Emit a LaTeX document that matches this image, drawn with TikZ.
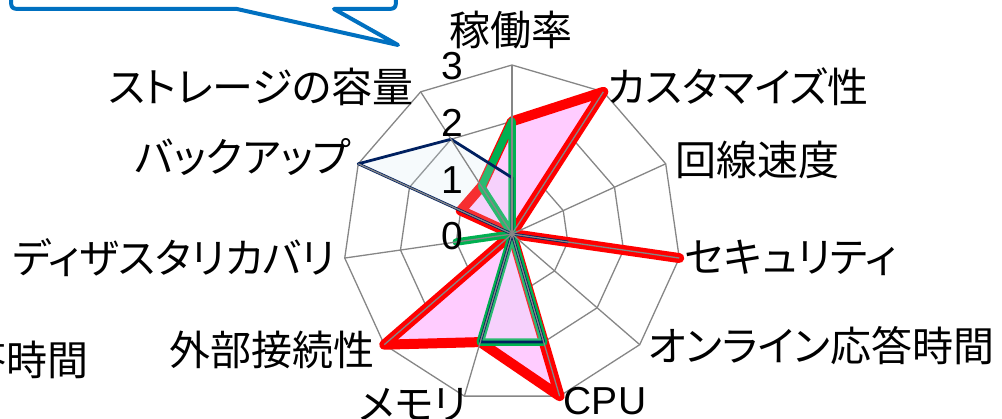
\documentclass[tikz,border=0pt]{standalone}
\usepackage{fontspec}
\newfontfamily\jp[RawFeature={+palt}]{Noto Sans CJK JP}
\newfontfamily\ar{Liberation Sans}
\definecolor{gridgray}{RGB}{134,134,134}
\definecolor{rred}{RGB}{255,0,0}
\definecolor{pinkf}{RGB}{255,204,255}
\definecolor{ggreen}{RGB}{0,176,80}
\definecolor{navyc}{RGB}{0,32,96}
\definecolor{navyfill}{RGB}{210,230,242}
\definecolor{callblue}{RGB}{0,112,192}
\begin{document}
\begin{tikzpicture}[x=1pt,y=-1pt,
  lbl/.style={font=\jp\fontsize{41}{41}\selectfont, inner sep=0pt},
  num/.style={font=\ar\fontsize{39}{39}\selectfont, inner sep=0pt},
  ring/.style={draw=gridgray, line width=1.3pt},
  spoke/.style={draw=gridgray, line width=1.3pt},
  redser/.style={draw=rred, fill=pinkf, line width=10pt, line join=round},
  greenser/.style={draw=ggreen, line width=7.5pt, line join=round},
  navyser/.style={draw=navyc, fill=navyfill, fill opacity=0.2, draw opacity=1, line width=2.8pt, line join=round},
  callout/.style={draw=callblue, fill=white, line width=4pt, line join=round}]
\useasboundingbox (0,0) rectangle (1002,419);
\clip (0,0) rectangle (1002,419);
\coordinate (c) at (512,234);
\foreach \k in {0,...,10}{
  \foreach \v in {1,2,3}{
    \coordinate (p\k-\v) at ({512+56.333*\v*sin(\k*360/11)},{234-56.333*\v*cos(\k*360/11)});
  }
}
% rings
\foreach \v in {1,2,3}{
  \draw[ring] (p0-\v) -- (p1-\v) -- (p2-\v) -- (p3-\v) -- (p4-\v) -- (p5-\v) -- (p6-\v) -- (p7-\v) -- (p8-\v) -- (p9-\v) -- (p10-\v) -- cycle;
}
% series
\draw[redser] (p0-2) -- (p1-3) -- (c) -- (p3-3) -- (c) -- (p5-3) -- (p6-2) -- (p7-3) -- (c) -- (p9-1) -- (p10-1) -- cycle;
\draw[greenser] (p0-2) -- (c) -- (p5-2) -- (p6-2) -- (c) -- (p8-1) -- (c) -- (p10-1) -- cycle;
\draw[navyser] (p0-1) -- (c) -- (p3-1) -- (c) -- (p5-2) -- (p6-2) -- (c) -- (p9-3) -- (p10-2) -- cycle;
% spokes
\foreach \k in {0,...,10}{
  \draw[spoke] (c) -- (p\k-3);
}
% tick labels
\node[num] (t3) at (452,66) {3};
\node[num] (t2) at (452,123) {2};
\node[num] (t1) at (452,180) {1};
\node[num] (t0) at (452,236) {0};
% axis labels
\node[lbl] (l0) at (511,30) {稼働率};
\node[lbl] (l1) at (738,87) {カスタマイズ性};
\node[lbl] (l2) at (757,160) {回線速度};
\node[lbl] (l3) at (791,258) {セキュリティ};
\node[lbl] (l4) at (821,346) {オンライン応答時間};
\node[num] (l5) at (605,401) {CPU};
\node[lbl] (l6) at (413,405) {メモリ};
\node[lbl] (l7) at (272,350) {外部接続性};
\node[lbl] (l8) at (174,258) {ディザスタリカバリ};
\node[lbl] (l9) at (243,157) {バックアップ};
\node[lbl] (l10) at (261,87) {ストレージの容量};
\node[lbl, anchor=east] (lx) at (89,360) {応答時間};
% callout
\draw[callout] (11,-40) -- (11,-3) .. controls (11,9) .. (23,9) -- (237,9) -- (398,45) -- (334,9) -- (384,9) .. controls (396,9) .. (396,-3) -- (396,-40);
\end{tikzpicture}
\end{document}
